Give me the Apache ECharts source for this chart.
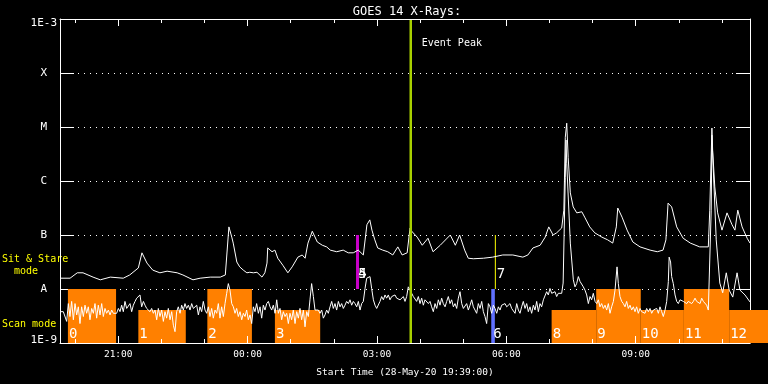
<!DOCTYPE html>
<html><head><meta charset="utf-8">
<script src="https://cdn.jsdelivr.net/npm/echarts@6/dist/echarts.min.js"></script>
<style>html,body{margin:0;padding:0;background:#000;}#c{width:768px;height:384px;}</style>
</head><body><div id="c"></div>
<script>
// ---- time base: minutes of day, start 28-May-20 19:39 ----
const START = 1179;
const SPAN = 960;
const FONT = '"DejaVu Sans Mono", "Liberation Mono", monospace';

// y axis: log10 of flux (W/m^2), labels per decade
const yTickValues = [-9, -8, -7, -6, -5, -4, -3];
const yTickLabels = ['1E-9', 'A', 'B', 'C', 'M', 'X', '1E-3'];

// x axis ticks (minutes of day)
const xMinorTicks = [1200,1260,1320,1380,1440,1500,1560,1620,1680,1740,1800,1860,1920,1980,2040,2100];
const xMajorTicks = [1260, 1440, 1620, 1800, 1980];
const xMajorLabels = ['21:00', '00:00', '03:00', '06:00', '09:00'];

// long channel [minutes after start, log10 flux]
const longChannel = [[0,-7.80],[14,-7.80],[24,-7.70],[32,-7.70],[46,-7.78],[56,-7.83],[70,-7.78],[88,-7.80],[97,-7.74],[109,-7.61],[114,-7.33],[121,-7.52],[129,-7.65],[139,-7.70],[149,-7.67],[163,-7.70],[171,-7.74],[185,-7.83],[195,-7.80],[209,-7.78],[223,-7.78],[230,-7.74],[235,-6.85],[237,-6.87],[239,-7.04],[241,-7.15],[246,-7.50],[250,-7.59],[255,-7.65],[260,-7.70],[264,-7.69],[269,-7.70],[274,-7.69],[281,-7.78],[285,-7.70],[288,-7.52],[289,-7.24],[295,-7.31],[299,-7.28],[303,-7.43],[310,-7.56],[317,-7.70],[323,-7.59],[327,-7.50],[331,-7.41],[337,-7.37],[341,-7.43],[345,-7.15],[351,-6.93],[358,-7.13],[365,-7.19],[371,-7.22],[376,-7.28],[385,-7.31],[394,-7.28],[401,-7.33],[408,-7.33],[415,-7.28],[422,-7.37],[427,-6.81],[431,-6.72],[434,-6.91],[438,-7.09],[442,-7.24],[449,-7.28],[456,-7.31],[463,-7.37],[470,-7.22],[476,-7.37],[483,-7.33],[487,-6.87],[490,-6.94],[497,-7.04],[504,-7.19],[512,-7.06],[519,-7.31],[529,-7.19],[543,-7.00],[550,-7.19],[556,-7.00],[563,-7.28],[568,-7.43],[575,-7.44],[589,-7.43],[602,-7.41],[616,-7.37],[630,-7.37],[644,-7.41],[651,-7.37],[658,-7.24],[668,-7.19],[675,-7.04],[680,-6.85],[686,-7.00],[691,-6.96],[698,-6.87],[701,-6.54],[703,-5.19],[705,-4.93],[707,-5.56],[710,-6.22],[714,-6.48],[719,-6.59],[726,-6.57],[730,-6.67],[737,-6.85],[744,-6.96],[754,-7.04],[762,-7.09],[769,-7.15],[774,-6.85],[776,-6.50],[782,-6.67],[789,-6.91],[797,-7.13],[807,-7.22],[821,-7.28],[831,-7.31],[839,-7.28],[843,-7.09],[846,-6.41],[851,-6.48],[858,-6.85],[867,-7.06],[877,-7.15],[890,-7.22],[902,-7.22],[904,-6.54],[907,-5.02],[908,-5.43],[911,-6.11],[915,-6.59],[921,-6.91],[928,-6.59],[935,-6.81],[939,-6.91],[943,-6.54],[949,-6.85],[956,-7.06],[960,-7.15]];

// short channel [minutes after start, log10 flux]
const shortChannel = [[0.0,-8.42],[2.3,-8.39],[4.6,-8.42],[7.0,-8.45],[9.3,-8.60],[11.6,-8.27],[13.9,-8.51],[16.2,-8.23],[18.6,-8.57],[20.9,-8.27],[23.2,-8.48],[25.5,-8.33],[27.8,-8.64],[30.1,-8.33],[32.5,-8.51],[34.8,-8.30],[37.1,-8.45],[39.4,-8.33],[41.7,-8.57],[44.1,-8.36],[46.4,-8.45],[48.7,-8.27],[51.0,-8.54],[53.3,-8.30],[55.7,-8.48],[58.0,-8.27],[60.3,-8.51],[62.6,-8.36],[64.9,-8.45],[67.3,-8.39],[69.6,-8.48],[71.9,-8.39],[74.2,-8.45],[76.5,-8.42],[78.8,-8.45],[81.2,-8.36],[83.5,-8.42],[85.8,-8.30],[88.1,-8.42],[90.4,-8.23],[92.8,-8.36],[95.1,-8.33],[97.4,-8.27],[99.7,-8.42],[102.0,-8.30],[104.4,-8.23],[106.7,-8.17],[109.0,-8.20],[111.3,-8.11],[113.6,-8.33],[116.0,-8.23],[118.3,-8.30],[120.6,-8.36],[122.9,-8.33],[125.2,-8.42],[127.5,-8.36],[129.9,-8.45],[132.2,-8.39],[134.5,-8.57],[136.8,-8.36],[139.1,-8.51],[141.5,-8.39],[143.8,-8.60],[146.1,-8.42],[148.4,-8.54],[150.7,-8.36],[153.1,-8.57],[155.4,-8.42],[157.7,-8.67],[160.0,-8.79],[162.3,-8.42],[164.6,-8.33],[167.0,-8.45],[169.3,-8.30],[171.6,-8.39],[173.9,-8.27],[176.2,-8.36],[178.6,-8.30],[180.9,-8.39],[183.2,-8.27],[185.5,-8.36],[187.8,-8.39],[190.2,-8.30],[192.5,-8.48],[194.8,-8.33],[197.1,-8.42],[199.4,-8.23],[201.8,-8.39],[204.1,-8.45],[206.4,-8.33],[208.7,-8.51],[211.0,-8.36],[213.3,-8.54],[215.7,-8.39],[218.0,-8.45],[220.3,-8.27],[222.6,-8.54],[224.9,-8.33],[227.3,-8.51],[229.6,-8.27],[231.9,-8.08],[234.2,-7.90],[236.5,-8.02],[238.9,-8.27],[241.2,-8.33],[243.5,-8.45],[245.8,-8.36],[248.1,-8.51],[250.5,-8.42],[252.8,-8.57],[255.1,-8.45],[257.4,-8.51],[259.7,-8.39],[262.0,-8.57],[264.4,-8.48],[266.7,-8.64],[269.0,-8.33],[271.3,-8.42],[273.6,-8.27],[276.0,-8.45],[278.3,-8.33],[280.6,-8.54],[282.9,-8.30],[285.2,-8.39],[287.6,-8.27],[289.9,-8.23],[292.2,-8.33],[294.5,-8.39],[296.8,-8.30],[299.2,-8.45],[301.5,-8.20],[303.8,-8.45],[306.1,-8.36],[308.4,-8.57],[310.7,-8.42],[313.1,-8.51],[315.4,-8.45],[317.7,-8.64],[320.0,-8.45],[322.3,-8.57],[324.6,-8.39],[327.0,-8.64],[329.3,-8.42],[331.6,-8.54],[333.9,-8.36],[336.2,-8.57],[338.6,-8.39],[340.9,-8.70],[343.2,-8.42],[345.5,-8.51],[347.8,-8.20],[350.1,-7.90],[352.5,-8.14],[354.8,-8.39],[357.1,-8.42],[359.4,-8.39],[361.7,-8.45],[364.1,-8.39],[366.4,-8.54],[368.7,-8.48],[371.0,-8.39],[373.3,-8.45],[375.7,-8.33],[378.0,-8.23],[380.3,-8.36],[382.6,-8.27],[384.9,-8.39],[387.3,-8.23],[389.6,-8.33],[391.9,-8.27],[394.2,-8.36],[396.5,-8.30],[398.8,-8.23],[401.2,-8.27],[403.5,-8.20],[405.8,-8.30],[408.1,-8.23],[410.4,-8.27],[412.8,-8.33],[415.1,-8.23],[417.4,-8.39],[419.7,-8.27],[422.0,-8.23],[424.4,-7.99],[426.7,-7.80],[429.0,-7.83],[431.3,-7.77],[433.6,-7.99],[436.0,-8.20],[438.3,-8.30],[440.6,-8.36],[442.9,-8.33],[445.2,-8.23],[447.5,-8.14],[449.9,-8.20],[452.2,-8.11],[454.5,-8.17],[456.8,-8.11],[459.1,-8.20],[461.5,-8.14],[463.8,-8.17],[466.1,-8.11],[468.4,-8.17],[470.7,-8.14],[473.1,-8.20],[475.4,-8.17],[477.7,-8.14],[480.0,-8.23],[482.3,-8.14],[484.6,-7.96],[487.0,-8.02],[489.3,-8.08],[491.6,-8.14],[493.9,-8.11],[496.2,-8.23],[498.6,-8.14],[500.9,-8.27],[503.2,-8.17],[505.5,-8.30],[507.8,-8.20],[510.2,-8.17],[512.5,-8.27],[514.8,-8.23],[517.1,-8.33],[519.4,-8.42],[521.8,-8.27],[524.1,-8.36],[526.4,-8.20],[528.7,-8.30],[531.0,-8.17],[533.3,-8.27],[535.7,-8.33],[538.0,-8.23],[540.3,-8.14],[542.6,-8.27],[544.9,-8.20],[547.3,-8.33],[549.6,-8.27],[551.9,-8.36],[554.2,-8.17],[556.5,-8.05],[558.9,-8.27],[561.2,-8.36],[563.5,-8.33],[565.8,-8.27],[568.1,-8.39],[570.5,-8.30],[572.8,-8.20],[575.1,-8.33],[577.4,-8.36],[579.7,-8.45],[582.0,-8.27],[584.4,-8.36],[586.7,-8.23],[589.0,-8.42],[591.3,-8.51],[593.6,-8.64],[596.0,-8.27],[598.3,-8.33],[600.6,-8.45],[602.9,-8.30],[605.2,-8.36],[607.6,-8.45],[609.9,-8.33],[612.2,-8.39],[614.5,-8.30],[616.8,-8.33],[619.2,-8.27],[621.5,-8.33],[623.8,-8.30],[626.1,-8.27],[628.4,-8.36],[630.7,-8.33],[633.1,-8.45],[635.4,-8.27],[637.7,-8.39],[640.0,-8.45],[642.3,-8.33],[644.6,-8.23],[647.0,-8.36],[649.3,-8.27],[651.6,-8.42],[653.9,-8.33],[656.2,-8.45],[658.6,-8.30],[660.9,-8.39],[663.2,-8.23],[665.5,-8.42],[667.8,-8.27],[670.1,-8.33],[672.5,-8.20],[674.8,-8.17],[677.1,-8.05],[679.4,-8.11],[681.7,-7.99],[684.1,-8.08],[686.4,-8.11],[688.7,-8.05],[691.0,-8.14],[693.3,-8.08],[695.7,-8.11],[698.0,-8.08],[700,-7.89],[703,-5.93],[704,-5.24],[705,-5.67],[710,-7.15],[714.2,-7.83],[716.5,-7.96],[718.8,-7.90],[721.2,-7.77],[723.5,-7.86],[725.8,-7.83],[728.1,-7.96],[730.4,-8.02],[732.8,-8.11],[735.1,-8.27],[737.4,-8.14],[739.7,-8.20],[742.0,-8.08],[744.4,-8.23],[746.7,-8.27],[749.0,-8.20],[751.3,-8.33],[753.6,-8.27],[756.0,-8.36],[758.3,-8.30],[760.6,-8.39],[762.9,-8.27],[765.2,-8.45],[767.5,-8.33],[769.9,-8.23],[772.2,-8.02],[775.0,-7.59],[776.8,-7.90],[779.1,-8.14],[781.5,-8.23],[783.8,-8.27],[786.1,-8.33],[788.4,-8.23],[790.7,-8.36],[793.1,-8.30],[795.4,-8.39],[797.7,-8.33],[800.0,-8.42],[802.3,-8.33],[804.6,-8.45],[807.0,-8.36],[809.3,-8.42],[811.6,-8.39],[813.9,-8.45],[816.2,-8.36],[818.6,-8.42],[820.9,-8.36],[823.2,-8.45],[825.5,-8.39],[827.8,-8.42],[830.2,-8.36],[832.5,-8.45],[834.8,-8.33],[837.1,-8.42],[839.4,-8.51],[841.8,-8.39],[844.1,-8.23],[846.4,-7.86],[847.5,-7.41],[849.5,-7.50],[851.0,-7.77],[853.3,-7.90],[855.7,-8.11],[858.0,-8.23],[860.3,-8.27],[862.6,-8.20],[864.9,-8.17],[867.3,-8.23],[869.6,-8.20],[871.9,-8.27],[874.2,-8.23],[876.5,-8.20],[878.9,-8.27],[881.2,-8.23],[883.5,-8.17],[885.8,-8.23],[888.1,-8.20],[890.5,-8.27],[892.8,-8.17],[895.1,-8.23],[897.4,-8.20],[899.7,-8.30],[902.0,-8.39],[906,-6.54],[907,-5.15],[908,-5.48],[913,-7.09],[918,-7.89],[922,-8.07],[927,-7.70],[931,-8.02],[936,-8.15],[942,-7.70],[946,-8.02],[953,-8.11],[960,-8.24]];

// observations: minutes after start, vertical extent in log10 flux
const obsLabels = ['0','1','2','3','4','5','6','7','8','9','10','11','12'];
const obsStart  = [11, 109, 205, 299, 412, 412, 600, 605, 684, 746, 808, 868, 931];
const obsEnd    = [78, 175, 267, 362, 416, 416, 605, 606, 746, 808, 868, 931, 990];
const obsTop    = [-8, -8.39, -8, -8.39, -7, -7, -8, -7, -8.39, -8, -8.39, -8, -8.39];
const obsBottom = [-9, -9, -9, -9, -8, -8, -9, -8, -9, -9, -9, -9, -9];
const obsKind   = ['scan','scan','scan','scan','sitM','sitM','scanB','sitY','scan','scan','scan','scan','scan'];

// event peak (minutes after start)
const eventPeak = 488;
const eventLabel = 'Event Peak';

const kindColor = { scan: '#ff8000', sitM: '#c800c8', scanB: '#6070ff', sitY: '#ffff00' };

const obsData = obsLabels.map((l, i) => [START + obsStart[i], START + obsEnd[i], obsTop[i], obsBottom[i], i]);

const chart = echarts.init(document.getElementById('c'), null, { renderer: 'canvas' });

function xAxisBase(pos) {
  return { type: 'value', min: START, max: START + SPAN, position: pos, gridIndex: 0,
    splitLine: { show: false }, z: 10 };
}

const option = {
  backgroundColor: '#000',
  animation: false,
  title: { text: 'GOES 14 X-Rays:', left: 402, textAlign: 'center', top: 1,
    textStyle: { color: '#fff', fontSize: 12, fontWeight: 'normal', fontFamily: FONT } },
  grid: { left: 60, right: 18, top: 19, bottom: 41, show: false },
  graphic: [
    { type: 'text', left: 2, top: 253, style: { text: 'Sit & Stare\n  mode', fill: '#ffff00', fontSize: 10, fontFamily: FONT, lineHeight: 12 } },
    { type: 'text', left: 2, top: 318, style: { text: 'Scan mode', fill: '#ffff00', fontSize: 10, fontFamily: FONT, lineHeight: 12 } }
  ],
  xAxis: [
    Object.assign(xAxisBase('bottom'), {
      axisLine: { show: true, lineStyle: { color: '#fff', width: 1 } },
      axisTick: { show: true, inside: true, length: 4, customValues: xMinorTicks, lineStyle: { color: '#fff' } },
      axisLabel: { show: true, customValues: xMajorTicks, color: '#fff', fontSize: 9.5, fontFamily: FONT, margin: 7,
        formatter: v => xMajorLabels[xMajorTicks.indexOf(v)] || '' },
      name: 'Start Time (28-May-20 19:39:00)', nameLocation: 'middle', nameGap: 25,
      nameTextStyle: { color: '#fff', fontSize: 9.5, fontFamily: FONT }
    }),
    Object.assign(xAxisBase('bottom'), {
      axisLine: { show: false },
      axisTick: { show: true, inside: true, length: 7, customValues: xMajorTicks, lineStyle: { color: '#fff' } },
      axisLabel: { show: false }
    }),
    Object.assign(xAxisBase('top'), {
      axisLine: { show: true, lineStyle: { color: '#fff', width: 1 } },
      axisTick: { show: true, inside: true, length: 4, customValues: xMinorTicks, lineStyle: { color: '#fff' } },
      axisLabel: { show: false }
    }),
    Object.assign(xAxisBase('top'), {
      axisLine: { show: false },
      axisTick: { show: true, inside: true, length: 7, customValues: xMajorTicks, lineStyle: { color: '#fff' } },
      axisLabel: { show: false }
    })
  ],
  yAxis: [
    { type: 'value', min: -9, max: -3, interval: 1, position: 'left',
      axisLine: { show: true, lineStyle: { color: '#fff', width: 1 } },
      axisTick: { show: true, inside: true, length: 14, lineStyle: { color: '#fff' } },
      axisLabel: { color: '#fff', fontSize: 11, fontFamily: FONT, margin: 3,
        formatter: v => {
          const r = Math.round(v);
          const s = yTickLabels[yTickValues.indexOf(r)];
          if (r === -3) return '{t|' + s + '}';
          if (r === -9) return '{b|' + s + '}';
          return '{l|' + s + '}';
        },
        rich: {
          t: { padding: [8, 0, 0, 0], color: '#fff', fontSize: 11, fontFamily: FONT },
          b: { padding: [0, 0, 6, 0], color: '#fff', fontSize: 11, fontFamily: FONT },
          l: { padding: [0, 10, 0, 0], color: '#fff', fontSize: 11, fontFamily: FONT }
        } },
      splitLine: { show: true, lineStyle: { color: '#fff', width: 1, type: [1, 5] } } },
    { type: 'value', min: -9, max: -3, interval: 1, position: 'right',
      axisLine: { show: true, lineStyle: { color: '#fff', width: 1 } },
      axisTick: { show: true, inside: true, length: 14, lineStyle: { color: '#fff' } },
      axisLabel: { show: false }, splitLine: { show: false } }
  ],
  series: [
    { type: 'custom', xAxisIndex: 0, yAxisIndex: 0, clip: false, z: 1,
      data: obsData,
      encode: { x: [0, 1], y: [2, 3] },
      renderItem: function (params, api) {
        const i = api.value(4);
        const p1 = api.coord([api.value(0), api.value(2)]);
        const p2 = api.coord([api.value(1), api.value(3)]);
        const kind = obsKind[i];
        const isSit = kind.indexOf('sit') === 0;
        const w = Math.max(p2[0] - p1[0], 1);
        const children = [{ type: 'rect', shape: { x: p1[0], y: p1[1], width: w, height: p2[1] - p1[1] },
          style: { fill: kindColor[kind] } }];
        const ty = isSit ? p2[1] - 8 : p2[1] - 2;
        const tx = (kind === 'scan') ? p1[0] + 1 : p1[0] + 2;
        children.push({ type: 'text', z2: 5, style: { text: obsLabels[i], x: tx, y: ty, align: 'left', verticalAlign: 'bottom',
          fill: '#fff', fontSize: 14, fontFamily: FONT } });
        return { type: 'group', children: children };
      } },
    { type: 'line', name: 'long', xAxisIndex: 0, yAxisIndex: 0, z: 3, symbol: 'none', showSymbol: false,
      data: longChannel.map(d => [START + d[0], d[1]]),
      lineStyle: { color: '#fff', width: 1 } },
    { type: 'line', name: 'short', xAxisIndex: 0, yAxisIndex: 0, z: 3, symbol: 'none', showSymbol: false,
      data: shortChannel.map(d => [START + d[0], d[1]]),
      lineStyle: { color: '#fff', width: 1 } },
    { type: 'custom', xAxisIndex: 0, yAxisIndex: 0, z: 5,
      data: [[START + eventPeak]],
      encode: { x: 0 },
      renderItem: function (params, api) {
        const x = api.coord([api.value(0), -3])[0];
        const top = api.coord([api.value(0), -3])[1];
        const bot = api.coord([api.value(0), -9])[1];
        return { type: 'group', children: [
          { type: 'line', shape: { x1: x, y1: top, x2: x, y2: bot }, style: { stroke: '#a8d000', lineWidth: 2.5 } },
          { type: 'text', style: { text: eventLabel, x: x + 11, y: top + 24, verticalAlign: 'middle', align: 'left',
            fill: '#fff', fontSize: 10, fontFamily: FONT } }
        ] };
      } }
  ]
};
chart.setOption(option);
</script>
</body></html>
